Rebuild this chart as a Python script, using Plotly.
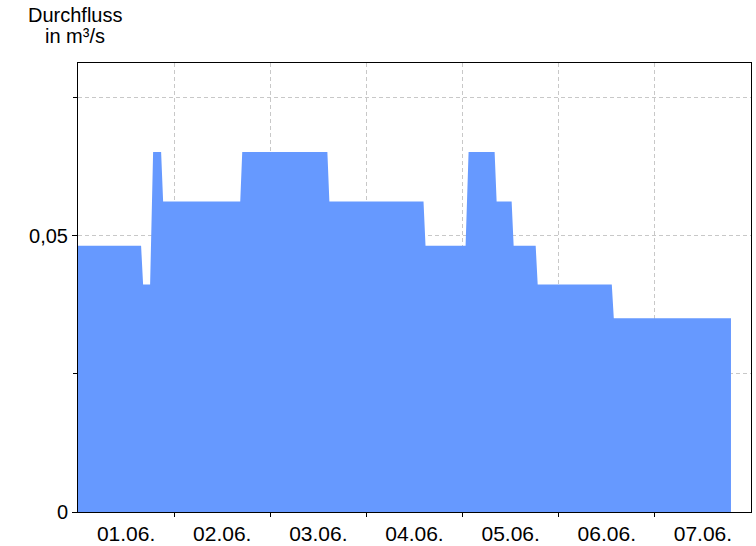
import plotly.graph_objects as go

# Breakpoints of the discharge series (time, value in m³/s)
times = [
    "2021-06-01 00:00", "2021-06-01 15:45", "2021-06-01 16:15", "2021-06-01 18:00",
    "2021-06-01 18:45", "2021-06-01 20:45", "2021-06-01 21:15", "2021-06-02 16:30",
    "2021-06-02 17:00", "2021-06-03 14:15", "2021-06-03 14:45", "2021-06-04 14:15",
    "2021-06-04 14:45", "2021-06-05 00:45", "2021-06-05 01:30", "2021-06-05 08:00",
    "2021-06-05 08:30", "2021-06-05 12:15", "2021-06-05 12:45", "2021-06-05 18:15",
    "2021-06-05 18:45", "2021-06-06 13:15", "2021-06-06 13:45", "2021-06-07 19:00",
]
flow = [
    0.0482, 0.0482, 0.0412, 0.0412,
    0.0652, 0.0652, 0.0562, 0.0562,
    0.0652, 0.0652, 0.0562, 0.0562,
    0.0482, 0.0482, 0.0652, 0.0652,
    0.0562, 0.0562, 0.0482, 0.0482,
    0.0412, 0.0412, 0.0351, 0.0351,
]

day_labels = ["01.06.", "02.06.", "03.06.", "04.06.", "05.06.", "06.06.", "07.06."]
label_pos = [f"2021-06-0{i+1} 12:00" for i in range(7)]
day_bounds = [f"2021-06-0{i+2} 00:00" for i in range(6)]

y_labels = ["0", "0,05"]
y_major = [0, 0.05]
y_minor = [0.025, 0.075]

FONT = "Liberation Sans, Arial, sans-serif"
GRID = "#c8c8c8"
DASH = "4px,3px"

fig = go.Figure()
fig.add_trace(go.Scatter(
    x=times, y=flow, mode="lines", fill="tozeroy",
    line=dict(color="#6699ff", width=0),
    fillcolor="#6699ff", hoverinfo="skip", showlegend=False,
))

fig.update_layout(
    width=756, height=546,
    margin=dict(l=78, r=5, t=63, b=34, autoexpand=False),
    paper_bgcolor="white", plot_bgcolor="white",
    font=dict(family=FONT, size=19, color="black"),
    showlegend=False,
)

fig.update_xaxes(
    range=["2021-06-01 00:00", "2021-06-08 00:00"],
    tickmode="array", tickvals=label_pos, ticktext=day_labels,
    ticks="", showgrid=False, zeroline=False,
    showline=True, linecolor="black", linewidth=1, mirror=True,
    tickfont=dict(size=21, family=FONT),
    ticklabelstandoff=3,
    automargin=False,
    minor=dict(tickmode="array", tickvals=day_bounds, ticks="outside", ticklen=4,
               tickcolor="black", showgrid=True, gridcolor=GRID,
               griddash=DASH, gridwidth=1),
)

fig.update_yaxes(
    range=[0, 0.0813],
    tickmode="array", tickvals=y_major, ticktext=y_labels,
    ticks="outside", ticklen=5, tickcolor="black",
    showgrid=True, gridcolor=GRID, griddash=DASH, gridwidth=1,
    zeroline=False,
    showline=True, linecolor="black", linewidth=1, mirror=True,
    tickfont=dict(size=20, family=FONT),
    automargin=False,
    minor=dict(tickmode="array", tickvals=y_minor, ticks="outside", ticklen=4,
               tickcolor="black", showgrid=True, gridcolor=GRID,
               griddash=DASH, gridwidth=1),
)

fig.add_annotation(text="Durchfluss", xref="paper", yref="paper",
                   x=(75 - 78) / 673, y=1 + (63 - 2) / 449, xanchor="center", yanchor="top",
                   showarrow=False, font=dict(size=20, family=FONT))
fig.add_annotation(text="in m³/s", xref="paper", yref="paper",
                   x=(75 - 78) / 673, y=1 + (63 - 23) / 449, xanchor="center", yanchor="top",
                   showarrow=False, font=dict(size=20, family=FONT))

fig.write_html("out.html", config={"displayModeBar": False},
               post_script="document.body.style.margin='0';")
